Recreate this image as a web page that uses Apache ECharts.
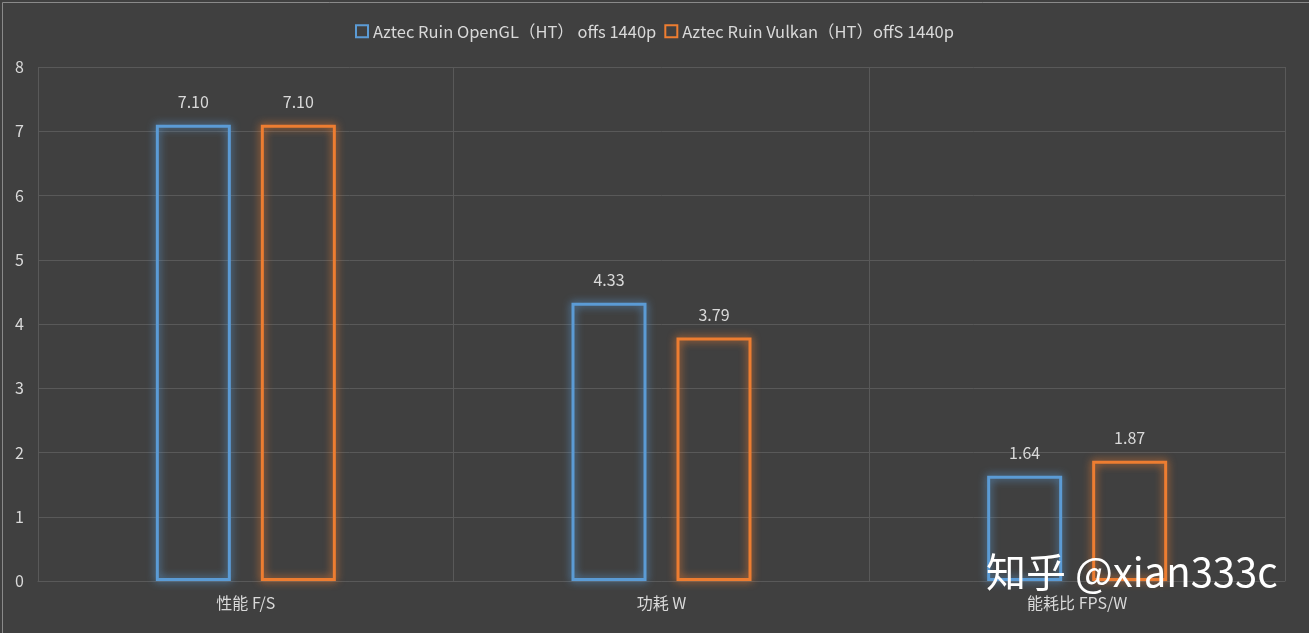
<!DOCTYPE html>
<html>
<head>
<meta charset="utf-8">
<script src="https://cdn.jsdelivr.net/npm/echarts@6/dist/echarts.min.js"></script>
<style>html,body{margin:0;padding:0;background:#404040}#main{width:1309px;height:633px}</style>
</head>
<body>
<div id="main"></div>
<script>
var categories = ['性能 F/S', '功耗 W', '能耗比 FPS/W'];
var openglValues = [7.10, 4.33, 1.64];
var vulkanValues = [7.10, 3.79, 1.87];
var seriesNames = ['Aztec Ruin OpenGL（HT） offs 1440p', 'Aztec Ruin Vulkan（HT）offS 1440p'];

var myChart = echarts.init(document.getElementById('main'));
var font = '"Microsoft YaHei","Noto Sans CJK SC",sans-serif';

function barSeries(name, data, color) {
    return {
        name: name,
        type: 'bar',
        data: data,
        barWidth: 75,
        barGap: '40%',
        itemStyle: {
            color: 'rgba(0,0,0,0)',
            borderColor: color,
            borderWidth: 3,
            shadowColor: color,
            shadowBlur: 8
        },
        label: {
            show: true,
            position: 'top',
            distance: 15,
            color: '#d9d9d9',
            fontSize: 16,
            fontFamily: font,
            formatter: function (p) { return p.value.toFixed(2); }
        }
    };
}

var option = {
    backgroundColor: '#404040',
    textStyle: { fontFamily: font },
    legend: {
        top: 18,
        left: 'center',
        itemWidth: 12,
        itemHeight: 12,
        itemGap: 8,
        itemTextGap: 5,
        textStyle: { color: '#d9d9d9', fontSize: 16.5 },
        data: [
            { name: seriesNames[0], icon: 'rect', itemStyle: { color: 'rgba(0,0,0,0)', borderColor: '#5b9bd5', borderWidth: 2 } },
            { name: seriesNames[1], icon: 'rect', itemStyle: { color: 'rgba(0,0,0,0)', borderColor: '#ed7d31', borderWidth: 2 } }
        ]
    },
    grid: { left: 38, right: 24, top: 67, bottom: 52 },
    xAxis: {
        type: 'category',
        data: categories,
        axisLine: { lineStyle: { color: '#595959' } },
        axisTick: { show: false },
        splitLine: { show: true, interval: 0, lineStyle: { color: '#595959' } },
        axisLabel: { color: '#d9d9d9', fontSize: 16, margin: 14 }
    },
    yAxis: {
        type: 'value',
        min: 0,
        max: 8,
        interval: 1,
        axisLine: { show: false },
        axisTick: { show: false },
        splitLine: { lineStyle: { color: '#595959' } },
        axisLabel: { color: '#d9d9d9', fontSize: 16, margin: 14 }
    },
    graphic: [
        { type: 'rect', left: 0, top: 0, shape: { width: 1307, height: 631 }, style: { fill: 'none', stroke: '#8a8a8a', lineWidth: 1 }, silent: true },
        { type: 'text', left: 986, top: 552, style: { text: '知乎 @xian333c', fill: '#ffffff', font: '40px "Noto Sans CJK SC", sans-serif' }, z: 100 }
    ],
    series: [
        barSeries(seriesNames[0], openglValues, '#5b9bd5'),
        barSeries(seriesNames[1], vulkanValues, '#ed7d31')
    ]
};
myChart.setOption(option);
</script>
</body>
</html>
